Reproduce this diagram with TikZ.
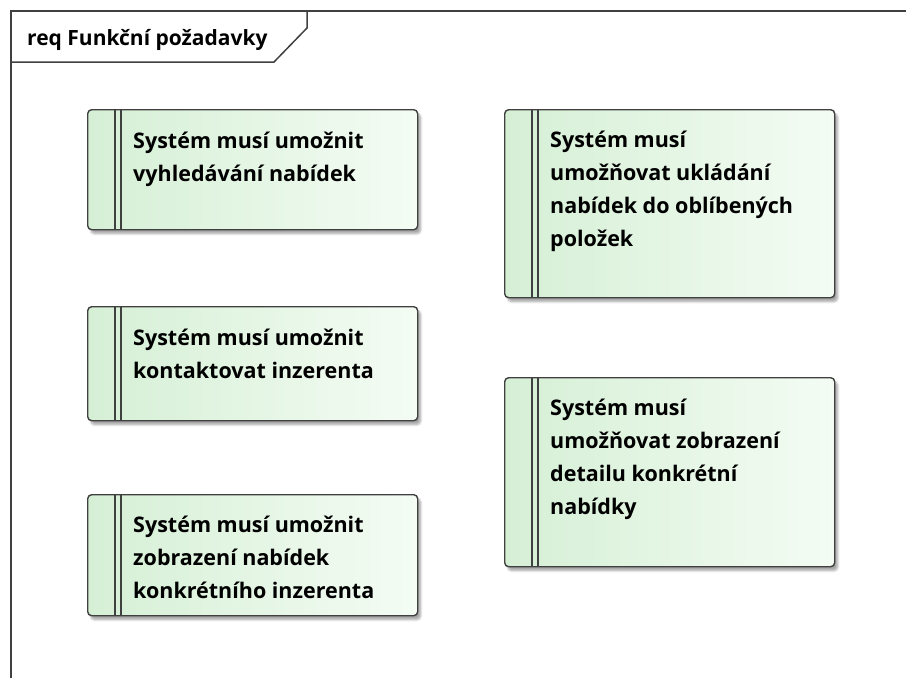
\documentclass[tikz,border=0pt]{standalone}
\usepackage{fontspec}
\setmainfont{Open Sans}
\usetikzlibrary{calc,shadows.blur}
\definecolor{edge}{HTML}{404040}
\definecolor{reqL}{HTML}{D5EFD5}
\definecolor{reqR}{HTML}{F4FCF4}
\tikzset{
  reqbox/.style={draw=edge, line width=1.4pt, rounded corners=4pt,
    left color=reqL, right color=reqR, minimum width=330pt,
    anchor=north west, inner sep=0pt,
    blur shadow={shadow xshift=3pt, shadow yshift=-4pt,
      shadow blur steps=6, shadow opacity=35}},
  % first line starts with a strut 0.7*33pt high, so its baseline sits 23.1pt below the node top
  reqtext/.style={anchor=north west, align=left, inner sep=0pt,
    font=\fontsize{21.5}{33}\selectfont\bfseries, execute at begin node=\strut},
  bar/.style={draw=edge, line width=1.2pt},
  frameline/.style={draw=edge, line width=1.5pt},
}
\begin{document}
\begin{tikzpicture}[x=1pt, y=-1pt]
  \useasboundingbox (0,0) rectangle (906,678);
  % diagram frame with its name tab
  \draw[frameline] (906,11) -- (11,11) -- (11,678);
  \draw[frameline] (11,62) -- (274,62) -- (307,28) -- (307,11);
  \node[anchor=base west, inner sep=0pt, font=\fontsize{21}{24}\selectfont\bfseries] (title) at (27,45) {req Funkční požadavky};

  % requirement boxes
  \node[reqbox, minimum height=120pt] (r1) at (87,109) {};
  \node[reqbox, minimum height=188pt] (r2) at (504,109) {};
  \node[reqbox, minimum height=114pt] (r3) at (87,306) {};
  \node[reqbox, minimum height=121pt] (r4) at (87,494) {};
  \node[reqbox, minimum height=189pt] (r5) at (504,377) {};

  % double stripe on the left of each box
  \foreach \b in {r1,r2,r3,r4,r5} {
    \draw[bar] ($(\b.north west)+(28,0)$) -- ($(\b.south west)+(28,0)$);
    \draw[bar] ($(\b.north west)+(34,0)$) -- ($(\b.south west)+(34,0)$);
  }

  % requirement texts
  \node[reqtext] (t1) at ($(r1.north west)+(46,23)$) {Systém musí umožnit\\vyhledávání nabídek};
  \node[reqtext] (t2) at ($(r2.north west)+(46,22)$) {Systém musí\\umožňovat ukládání\\nabídek do oblíbených\\položek};
  \node[reqtext] (t3) at ($(r3.north west)+(46,23)$) {Systém musí umožnit\\kontaktovat inzerenta};
  \node[reqtext] (t4) at ($(r4.north west)+(46,22)$) {Systém musí umožnit\\zobrazení nabídek\\konkrétního inzerenta};
  \node[reqtext] (t5) at ($(r5.north west)+(46,22)$) {Systém musí\\umožňovat zobrazení\\detailu konkrétní\\nabídky};
\end{tikzpicture}
\end{document}
